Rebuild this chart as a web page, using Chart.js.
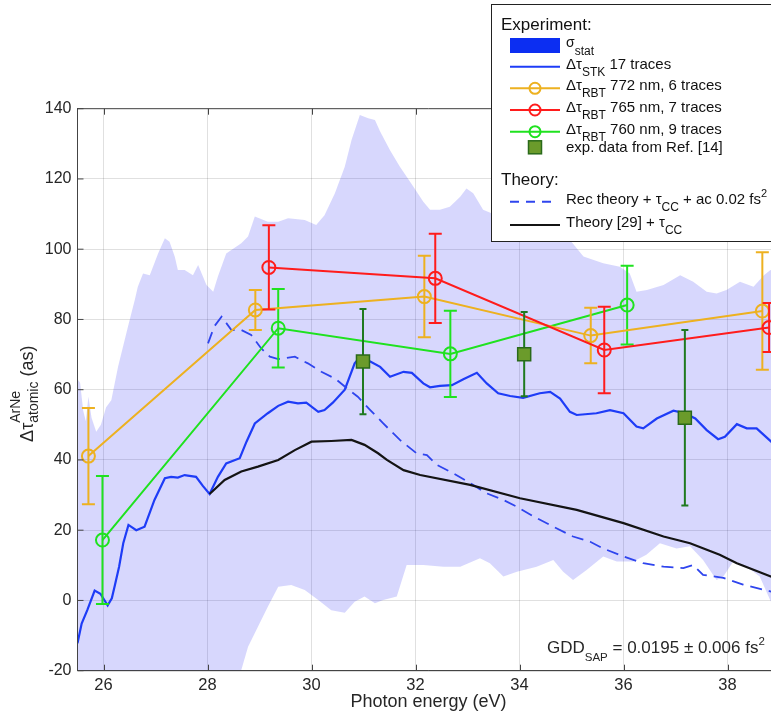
<!DOCTYPE html>
<html>
<head>
<meta charset="utf-8">
<script src="https://cdn.jsdelivr.net/npm/chart.js@4/dist/chart.umd.min.js"></script>
<style>
  html, body { margin: 0; padding: 0; background: #fff; overflow: hidden; width: 771px; height: 714px; }
  #wrap { position: absolute; left: 0; top: 0; width: 800px; height: 714px; }
</style>
</head>
<body>
<div id="wrap"><canvas id="chart" width="800" height="714"></canvas></div>
<script>
const FONT = '"Liberation Sans", Arial, Helvetica, sans-serif';

// Axis ticks
const xTicks = [26, 28, 30, 32, 34, 36, 38];
const yTicks = [-20, 0, 20, 40, 60, 80, 100, 120, 140];

// Streaking (STK) delay, 17 traces
const stkEnergy = [25.50,25.58,25.69,25.83,25.94,26.08,26.16,26.22,26.30,26.38,26.48,26.63,26.79,26.98,27.18,27.30,27.43,27.56,27.78,27.91,28.04,28.20,28.36,28.62,28.75,28.91,29.16,29.36,29.55,29.74,29.90,30.13,30.25,30.41,30.64,30.83,30.93,31.13,31.32,31.51,31.77,31.93,32.15,32.28,32.47,32.70,32.92,33.18,33.37,33.59,33.82,34.07,34.39,34.59,34.78,34.97,35.10,35.48,35.74,36.00,36.25,36.38,36.64,36.96,37.18,37.38,37.60,37.82,37.95,38.18,38.37,38.56,38.84,39.00];
const stkDelay = [-12.2,-6.6,-2.7,2.8,1.9,-1.4,0.6,4.4,9.6,16.3,21.5,20.0,21.0,28.6,34.8,35.2,35.0,35.7,35.2,32.6,30.3,35.2,39.0,40.5,45.2,50.4,53.3,55.4,56.6,56.1,56.3,53.7,54.2,56.3,60.0,67.5,69.2,68.0,66.5,63.7,65.1,64.8,61.8,60.7,61.1,61.3,63.0,64.8,61.8,59.0,58.2,57.7,59.0,59.4,57.5,53.7,52.8,53.3,54.2,53.3,49.5,49.0,51.8,54.0,53.3,51.8,48.5,45.9,46.6,50.2,49.0,49.0,45.2,43.0];

// Statistical uncertainty band (sigma_stat)
const bandUpperEnergy = [25.40,25.50,25.55,25.61,25.66,25.71,25.77,25.86,25.95,26.05,26.15,26.28,26.47,26.60,26.66,26.76,26.89,27.05,27.18,27.27,27.37,27.43,27.56,27.72,27.82,27.98,28.11,28.20,28.36,28.65,28.78,28.91,29.16,29.36,29.55,29.87,30.09,30.25,30.45,30.64,30.77,30.93,31.09,31.22,31.32,31.51,31.70,31.96,32.15,32.28,32.47,32.66,32.86,32.98,33.11,33.30,33.82,34.39,34.97,35.23,35.61,35.93,36.12,36.25,36.45,36.77,37.09,37.34,37.60,37.79,37.98,38.24,38.50,38.70,38.82,39.00];
const bandUpper = [63,63,62,54,51,58,52,48,50,55,57,66.5,77.9,85.5,89.3,93.1,92.6,98.8,103.1,102.1,97.9,94.1,94.1,92.6,95.5,89.8,87.9,92.2,98.8,101.7,103.6,109.3,107.8,107.8,108.8,108.3,106.9,109.7,115.9,123.5,131.1,138.2,137.3,136.8,133.5,128.2,123.5,117.8,113.5,111.2,111.2,112.1,114.9,117.3,115.9,111.2,108,106,102.6,97.9,96.0,95.0,93.1,87.9,88.4,89.8,92.6,90.7,87.9,87.4,88.4,90.7,89.3,92.6,94.0,95.0];
const bandLowerEnergy = [25.40,28.55,28.65,28.78,28.97,29.16,29.36,29.61,29.87,30.13,30.38,30.64,30.83,31.02,31.22,31.38,31.64,31.83,32.15,32.54,32.86,33.24,33.43,33.69,33.95,34.33,34.65,34.84,35.03,35.29,35.61,35.87,36.19,36.44,36.70,37.02,37.28,37.53,37.79,37.92,38.11,38.37,38.62,38.82,39.00];
const bandLower = [-30,-26,-19.8,-13.2,-7.5,-1.8,3.9,4.4,3.0,0.1,-2.8,-3.5,-0.4,1.1,-0.8,0.1,1.1,10.1,10.1,9.6,9.6,12.0,10.6,6.8,8.2,9.6,11.5,8.2,5.8,8.7,12.5,11.1,11.1,13.0,16.3,14.8,15.4,11.5,5.8,6.8,11.1,9.6,6.8,0.1,-5];

// RABBITT delays with error bars
const rbt772Energy = [25.71, 28.92, 32.17, 35.37, 38.67];
const rbt772Delay  = [41.1, 82.7, 86.5, 75.4, 82.4];
const rbt772Err    = [13.7, 5.7, 11.6, 7.9, 16.7];

const rbt765Energy = [29.18, 32.38, 35.63, 38.80];
const rbt765Delay  = [94.8, 91.7, 71.3, 77.7];
const rbt765Err    = [12.0, 12.7, 12.3, 7.0];

const rbt760Energy = [25.98, 29.36, 32.67, 36.07];
const rbt760Delay  = [17.2, 77.5, 70.2, 84.1];
const rbt760Err    = [18.2, 11.2, 12.3, 11.2];

// Earlier experimental data, Ref. [14]
const refEnergy = [30.99, 34.09, 37.18];
const refDelay  = [68.0, 70.1, 52.0];
const refErr    = [15.0, 12.0, 25.0];

// Theory curves
const recEnergy = [28.01,28.13,28.27,28.46,28.65,28.84,29.03,29.20,29.36,29.68,29.93,30.19,30.45,30.64,30.89,31.13,31.38,31.70,32.02,32.22,32.41,32.73,33.05,33.37,33.69,33.95,34.27,34.65,35.03,35.36,35.61,36.00,36.38,36.77,37.15,37.34,37.53,37.92,38.30,38.82,39.00];
const recDelay  = [73.2,78.0,80.8,77.0,77.0,75.6,71.8,69.4,68.7,69.4,67.5,65.1,63.2,60.9,58.0,54.2,50.4,45.7,41.9,41.4,38.6,36.2,33.4,30.5,28.6,26.7,23.9,21.0,18.2,16.7,14.8,12.5,10.6,9.6,9.2,10.1,7.3,6.4,4.5,2.6,2.0];
const thEnergy = [28.04,28.33,28.65,28.97,29.36,29.68,30.00,30.38,30.77,31.02,31.28,31.45,31.77,32.09,33.05,34.01,35.10,36.00,36.77,37.28,37.85,38.18,38.82,39.00];
const thDelay  = [30.3,34.3,36.7,38.1,40.0,42.8,45.2,45.4,45.7,44.3,41.9,40.0,37.1,35.7,32.9,29.1,25.8,22.0,18.2,16.3,13.0,10.6,6.9,5.8];

// Colours
const C = {
  band: 'rgba(20,20,245,0.17)',
  bandPatch: '#0c2ef2',
  stk: '#1e3cf7',
  rec: '#2f45ee',
  theory: '#141414',
  orange: '#edb120',
  red: '#ff1c1c',
  green: '#1fe21f',
  refFill: '#6b9b2b',
  refEdge: '#2a6a1a',
  refBar: '#1f7a1f',
  axis: '#444444',
  text: '#262626'
};

const pts = (xs, ys) => xs.map((x, i) => ({ x, y: ys[i] }));

// Vertical error bars, drawn just before their dataset
const errorBars = {
  id: 'errorBars',
  beforeDatasetDraw(chart, args) {
    const ds = chart.data.datasets[args.index];
    if (!ds.errors) return;
    const { ctx, chartArea: a, scales: { x, y } } = chart;
    ctx.save();
    ctx.beginPath();
    ctx.rect(a.left, a.top, a.right - a.left, a.bottom - a.top);
    ctx.clip();
    ctx.strokeStyle = ds.errorColor || ds.borderColor;
    ctx.lineWidth = ds.errorWidth || 2;
    ds.data.forEach((p, i) => {
      const e = ds.errors[i];
      const px = x.getPixelForValue(p.x);
      const t = y.getPixelForValue(p.y + e);
      const b = y.getPixelForValue(p.y - e);
      const c = ds.capHalf;
      ctx.beginPath();
      ctx.moveTo(px, t); ctx.lineTo(px, b);
      ctx.moveTo(px - c, t); ctx.lineTo(px + c, t);
      ctx.moveTo(px - c, b); ctx.lineTo(px + c, b);
      ctx.stroke();
    });
    ctx.restore();
  }
};

// Draws a run of text pieces, each with its own size and vertical offset
function rich(ctx, x, y, parts, color) {
  let cx = x;
  ctx.fillStyle = color || C.text;
  ctx.textAlign = 'left';
  ctx.textBaseline = 'alphabetic';
  for (const p of parts) {
    ctx.font = (p.italic ? 'italic ' : '') + p.size + 'px ' + FONT;
    ctx.fillText(p.t, cx, y + (p.dy || 0));
    cx += ctx.measureText(p.t).width;
  }
  return cx;
}

// Axes box with inward ticks on top of the data
const frame = {
  id: 'frame',
  afterDatasetsDraw(chart) {
    const { ctx, chartArea: a, scales: { x, y } } = chart;
    ctx.save();
    ctx.strokeStyle = C.axis;
    ctx.lineWidth = 1;
    ctx.beginPath();
    ctx.moveTo(a.left, a.top); ctx.lineTo(a.right, a.top);
    ctx.moveTo(a.left, a.top); ctx.lineTo(a.left, a.bottom);
    ctx.lineTo(a.right, a.bottom); ctx.lineTo(a.right, a.top);
    const tl = 6;
    xTicks.forEach(v => {
      const px = Math.round(x.getPixelForValue(v)) + 0.5;
      ctx.moveTo(px, a.bottom); ctx.lineTo(px, a.bottom - tl);
      ctx.moveTo(px, a.top); ctx.lineTo(px, a.top + tl);
    });
    yTicks.forEach(v => {
      const py = y.getPixelForValue(v);
      ctx.moveTo(a.left, py); ctx.lineTo(a.left + tl, py);
      ctx.moveTo(a.right, py); ctx.lineTo(a.right - tl, py);
    });
    ctx.stroke();
    ctx.restore();
  }
};

// Axis titles, annotation and the two-part legend
const annotations = {
  id: 'annotations',
  afterDraw(chart) {
    const { ctx, chartArea: a } = chart;
    ctx.save();

    // x title
    ctx.font = '18px ' + FONT;
    ctx.fillStyle = C.text;
    ctx.textAlign = 'center';
    ctx.textBaseline = 'alphabetic';
    ctx.fillText('Photon energy (eV)', (a.left + a.right) / 2, 707);

    // y title, rotated
    ctx.save();
    ctx.translate(33, (a.top + a.bottom) / 2 + 4);
    ctx.rotate(-Math.PI / 2);
    ctx.font = '18px ' + FONT;
    const w1 = ctx.measureText('\u0394\u03c4').width;
    const w3 = ctx.measureText(' (as)').width;
    ctx.font = '14px ' + FONT;
    const w2 = Math.max(ctx.measureText('ArNe').width, ctx.measureText('atomic').width);
    let u = -(w1 + w2 + w3) / 2;
    ctx.fillStyle = C.text;
    ctx.textAlign = 'left';
    ctx.font = '18px ' + FONT;
    ctx.fillText('\u0394\u03c4', u, 0); u += w1;
    ctx.font = '14px ' + FONT;
    ctx.fillText('ArNe', u, -13);
    ctx.fillText('atomic', u, 5); u += w2;
    ctx.font = '18px ' + FONT;
    ctx.fillText(' (as)', u, 0);
    ctx.restore();

    // GDD annotation
    rich(ctx, 547, 653, [
      { t: 'GDD', size: 17 },
      { t: 'SAP', size: 11.5, dy: 8 },
      { t: ' = 0.0195 \u00b1 0.006 fs', size: 17 },
      { t: '2', size: 11.5, dy: -8 }
    ]);

    // Legend box
    const L = { x: 491.5, y: 4.5, w: 320, h: 237 };
    ctx.fillStyle = '#ffffff';
    ctx.fillRect(L.x, L.y, L.w, L.h);
    ctx.strokeStyle = '#222';
    ctx.lineWidth = 1;
    ctx.strokeRect(L.x, L.y, L.w, L.h);

    const sx0 = 510, sx1 = 560, sxm = 535, tx = 566;
    rich(ctx, 501, 30, [{ t: 'Experiment:', size: 17 }], '#111');

    // sigma_stat patch
    ctx.fillStyle = C.bandPatch;
    ctx.fillRect(sx0, 38, 50, 15);
    rich(ctx, tx, 47, [{ t: '\u03c3', size: 14 }, { t: 'stat', size: 12, dy: 8 }], '#111');

    const lineRow = (y, color, dash, width) => {
      ctx.save();
      ctx.strokeStyle = color;
      ctx.lineWidth = width || 2;
      ctx.setLineDash(dash || []);
      ctx.beginPath();
      ctx.moveTo(sx0, y); ctx.lineTo(sx1, y);
      ctx.stroke();
      ctx.restore();
    };
    const circle = (y, color) => {
      ctx.save();
      ctx.strokeStyle = color;
      ctx.lineWidth = 2;
      ctx.beginPath();
      ctx.arc(sxm, y, 5.5, 0, Math.PI * 2);
      ctx.stroke();
      ctx.restore();
    };
    const dtau = (y, sub, rest) => rich(ctx, tx, y + 2, [
      { t: '\u0394\u03c4', size: 15 },
      { t: sub, size: 12, dy: 7 },
      { t: rest, size: 15 }
    ], '#111');

    lineRow(66.7, C.stk);
    dtau(66.7, 'STK', ' 17 traces');

    lineRow(88.3, C.orange); circle(88.3, C.orange);
    dtau(88.3, 'RBT', ' 772 nm, 6 traces');

    lineRow(110, C.red); circle(110, C.red);
    dtau(110, 'RBT', ' 765 nm, 7 traces');

    lineRow(131.7, C.green); circle(131.7, C.green);
    dtau(131.7, 'RBT', ' 760 nm, 9 traces');

    ctx.fillStyle = C.refFill;
    ctx.strokeStyle = C.refEdge;
    ctx.lineWidth = 1.5;
    ctx.fillRect(sxm - 6.5, 147.3 - 6.5, 13, 13);
    ctx.strokeRect(sxm - 6.5, 147.3 - 6.5, 13, 13);
    rich(ctx, tx, 152, [{ t: 'exp. data from Ref. [14]', size: 15 }], '#111');

    rich(ctx, 501, 185, [{ t: 'Theory:', size: 17 }], '#111');

    ctx.save();
    ctx.strokeStyle = C.rec;
    ctx.lineWidth = 2;
    ctx.setLineDash([9, 7]);
    ctx.beginPath();
    ctx.moveTo(sx0, 201.7); ctx.lineTo(556, 201.7);
    ctx.stroke();
    ctx.restore();
    rich(ctx, tx, 204, [
      { t: 'Rec theory + \u03c4', size: 15 },
      { t: 'CC', size: 12, dy: 7 },
      { t: ' + ac 0.02 fs', size: 15 },
      { t: '2', size: 11, dy: -7 }
    ], '#111');

    lineRow(225, C.theory);
    rich(ctx, tx, 227, [
      { t: 'Theory [29] + \u03c4', size: 15 },
      { t: 'CC', size: 12, dy: 7 }
    ], '#111');

    ctx.restore();
  }
};

const datasets = [
  {
    label: 'sigma lower',
    data: pts(bandLowerEnergy, bandLower),
    borderWidth: 0, pointRadius: 0, fill: false, order: 20
  },
  {
    label: 'sigma_stat',
    data: pts(bandUpperEnergy, bandUpper),
    borderWidth: 0, pointRadius: 0, fill: '-1', backgroundColor: C.band, order: 19
  },
  {
    label: 'STK',
    data: pts(stkEnergy, stkDelay),
    borderColor: C.stk, borderWidth: 2.2, pointRadius: 0, fill: false, order: 12
  },
  {
    label: 'Rec theory',
    data: pts(recEnergy, recDelay),
    borderColor: C.rec, borderWidth: 1.8, borderDash: [12, 7], pointRadius: 0, fill: false, order: 11
  },
  {
    label: 'Theory [29]',
    data: pts(thEnergy, thDelay),
    borderColor: C.theory, borderWidth: 2.2, pointRadius: 0, fill: false, order: 10
  },
  {
    label: 'RBT 760',
    data: pts(rbt760Energy, rbt760Delay),
    errors: rbt760Err, capHalf: 6.5,
    borderColor: C.green, borderWidth: 2, fill: false,
    pointStyle: 'circle', pointRadius: 6.5, pointBorderWidth: 2,
    pointBorderColor: C.green, pointBackgroundColor: 'rgba(0,0,0,0)', order: 6
  },
  {
    label: 'RBT 772',
    data: pts(rbt772Energy, rbt772Delay),
    errors: rbt772Err, capHalf: 6.5,
    borderColor: C.orange, borderWidth: 2, fill: false,
    pointStyle: 'circle', pointRadius: 6.5, pointBorderWidth: 2,
    pointBorderColor: C.orange, pointBackgroundColor: 'rgba(0,0,0,0)', order: 5
  },
  {
    label: 'RBT 765',
    data: pts(rbt765Energy, rbt765Delay),
    errors: rbt765Err, capHalf: 6.5,
    borderColor: C.red, borderWidth: 2, fill: false,
    pointStyle: 'circle', pointRadius: 6.5, pointBorderWidth: 2,
    pointBorderColor: C.red, pointBackgroundColor: 'rgba(0,0,0,0)', order: 4
  },
  {
    label: 'Ref. [14]',
    data: pts(refEnergy, refDelay),
    errors: refErr, capHalf: 3.5, errorColor: C.refBar, errorWidth: 2,
    showLine: false, borderColor: C.refEdge, fill: false,
    pointStyle: 'rect', pointRadius: 9.2, pointBorderWidth: 1.5,
    pointBorderColor: C.refEdge, pointBackgroundColor: C.refFill, order: 1
  }
];

new Chart(document.getElementById('chart'), {
  type: 'line',
  data: { datasets },
  options: {
    responsive: false,
    animation: false,
    devicePixelRatio: 1,
    layout: { padding: { left: 0, top: 108.7, right: 20.5, bottom: 0 } },
    elements: { line: { tension: 0 } },
    plugins: { legend: { display: false }, tooltip: { enabled: false } },
    scales: {
      x: {
        type: 'linear', min: 25.5, max: 39,
        afterBuildTicks: s => { s.ticks = xTicks.map(v => ({ value: v })); },
        afterFit: s => { s.height = 43.3; },
        grid: { color: 'rgba(0,0,0,0.12)', lineWidth: 1, drawTicks: false },
        border: { display: true, color: C.axis, width: 1 },
        ticks: { font: { family: FONT, size: 16.5 }, color: C.text, padding: 5, maxRotation: 0, autoSkip: false }
      },
      y: {
        type: 'linear', min: -20, max: 140,
        afterBuildTicks: s => { s.ticks = yTicks.map(v => ({ value: v })); },
        afterFit: s => { s.width = 77.5; },
        grid: { color: 'rgba(0,0,0,0.12)', lineWidth: 1, drawTicks: false },
        border: { display: true, color: C.axis, width: 1 },
        ticks: { font: { family: FONT, size: 16 }, color: C.text, padding: 6, autoSkip: false }
      }
    }
  },
  plugins: [errorBars, frame, annotations]
});
</script>
</body>
</html>
